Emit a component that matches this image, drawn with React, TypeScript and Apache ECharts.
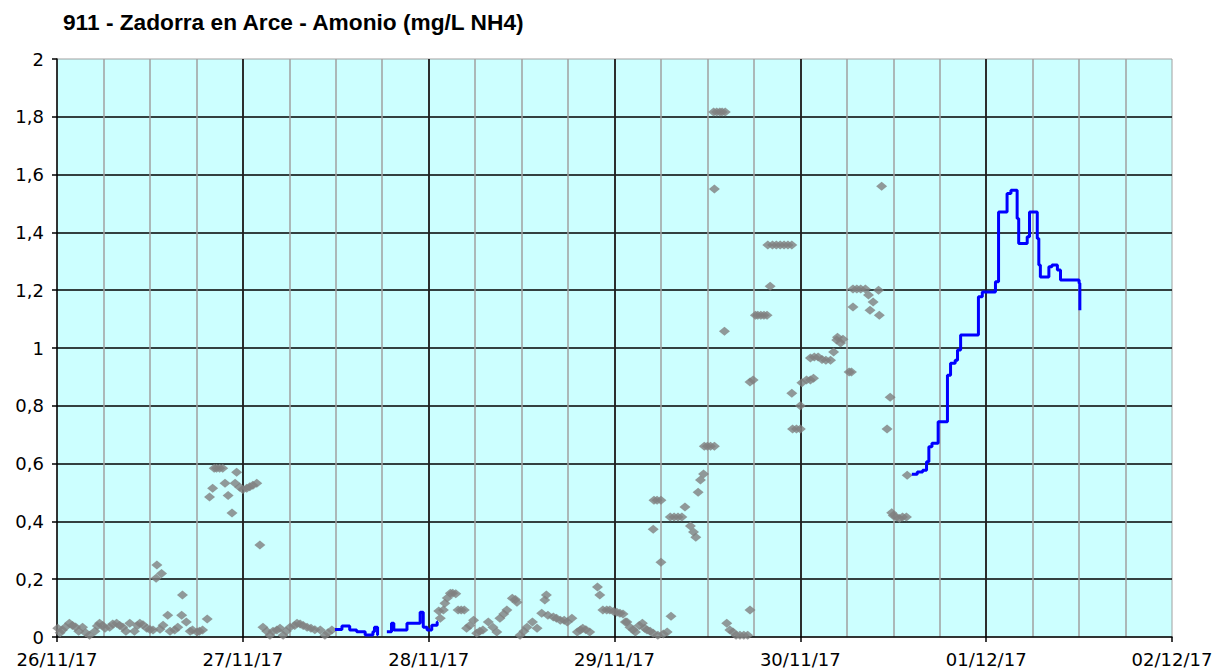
import React, { useEffect, useRef } from "react";
import * as echarts from "echarts";

const TITLE = "911 - Zadorra en Arce - Amonio (mg/L NH4)";
// x values are hours since 26/11/17 00:00
const DAY_LABELS = ["26/11/17", "27/11/17", "28/11/17", "29/11/17", "30/11/17", "01/12/17", "02/12/17"];
const X_MAX_HOURS = 144;
const Y_MIN = 0;
const Y_MAX = 2;
const Y_STEP = 0.2;

// grey diamonds: [hour, mg/L]
const GREY_DAY1: [number, number][] = [
  [0.1, 0.03], [0.4, 0.015], [0.7, 0.024], [1.1, 0.035], [1.6, 0.048], [2.0, 0.04], [2.4, 0.035],
  [2.8, 0.02], [3.3, 0.034], [3.7, 0.015], [4.2, 0.006], [4.9, 0.02], [5.2, 0.038], [5.5, 0.048],
  [5.9, 0.04], [6.2, 0.03], [6.8, 0.034], [7.2, 0.045], [7.7, 0.048], [8.1, 0.04], [8.5, 0.034],
  [8.9, 0.02], [9.4, 0.048], [10.0, 0.02], [10.4, 0.04], [10.7, 0.048], [11.1, 0.042], [11.6, 0.03],
  [12.0, 0.026], [12.4, 0.024], [12.8, 0.203], [12.9, 0.249], [13.3, 0.027], [13.5, 0.22],
  [13.7, 0.041], [14.3, 0.075], [14.6, 0.02], [15.2, 0.024], [15.6, 0.034], [16.1, 0.075], [16.2, 0.145],
  [16.7, 0.052], [17.2, 0.02], [17.5, 0.024], [18.1, 0.017], [18.4, 0.02], [18.8, 0.024], [19.4, 0.062],
];
const GREY_DAY2: [number, number][] = [
  [19.7, 0.484], [20.1, 0.515], [20.3, 0.584], [20.6, 0.584], [21.0, 0.584], [21.4, 0.584], [21.7, 0.532],
  [22.1, 0.49], [22.6, 0.429], [23.0, 0.532], [23.2, 0.57], [23.6, 0.518], [24.0, 0.51], [24.5, 0.515],
  [24.9, 0.52], [25.3, 0.525], [25.8, 0.532], [26.2, 0.318], [26.6, 0.034], [27.1, 0.02], [27.5, 0.006],
  [27.9, 0.02], [28.4, 0.024], [28.8, 0.03], [29.2, 0.006], [29.6, 0.02], [30.1, 0.034], [30.7, 0.04],
  [31.0, 0.048], [31.4, 0.045], [31.8, 0.04], [32.3, 0.034], [32.8, 0.03], [33.3, 0.025], [34.0, 0.024],
  [34.6, 0.006], [35.0, 0.015], [35.5, 0.024],
];
const GREY_DAY3: [number, number][] = [
  [49.3, 0.09], [49.5, 0.065], [49.9, 0.093], [50.1, 0.117], [50.4, 0.135], [50.8, 0.151], [51.1, 0.151],
  [51.5, 0.15], [51.8, 0.093], [52.2, 0.093], [52.6, 0.093], [52.9, 0.03], [53.3, 0.04], [53.8, 0.058],
  [54.2, 0.013], [54.6, 0.02], [55.0, 0.024], [55.7, 0.052], [56.3, 0.034], [56.8, 0.017], [57.2, 0.065],
  [57.7, 0.08], [58.1, 0.093], [58.8, 0.134], [59.2, 0.13], [59.4, 0.12], [59.8, 0.006], [60.3, 0.02],
  [60.7, 0.034], [61.4, 0.052], [62.0, 0.03], [62.6, 0.082], [63.0, 0.128], [63.2, 0.145], [63.4, 0.075],
  [64.1, 0.069], [64.5, 0.065], [65.0, 0.058], [65.5, 0.058], [65.9, 0.052], [66.5, 0.065], [67.2, 0.017],
  [67.6, 0.024], [67.9, 0.03], [68.3, 0.025], [68.8, 0.017], [69.8, 0.173], [70.1, 0.145], [70.5, 0.093],
  [71.0, 0.093], [71.4, 0.093], [71.9, 0.088],
];
const GREY_DAY4: [number, number][] = [
  [72.3, 0.086], [72.7, 0.082], [73.1, 0.08], [73.4, 0.052], [73.6, 0.052], [74.0, 0.034], [74.4, 0.025],
  [74.7, 0.017], [75.2, 0.04], [75.6, 0.048], [75.9, 0.03], [76.2, 0.024], [76.6, 0.02], [77.0, 0.013],
  [77.6, 0.006], [78.0, 0.259], [78.3, 0.01], [78.8, 0.017], [79.3, 0.072], [77.0, 0.373], [77.1, 0.473],
  [77.5, 0.473], [78.0, 0.473], [79.2, 0.415], [79.7, 0.415], [80.2, 0.415], [80.7, 0.415], [81.1, 0.45],
  [81.8, 0.384], [82.2, 0.363], [82.5, 0.345], [82.8, 0.501], [83.1, 0.543], [83.5, 0.564], [83.6, 0.66],
  [84.0, 0.66], [84.4, 0.66], [84.9, 0.66], [84.9, 1.55], [84.8, 1.817], [85.2, 1.817], [85.6, 1.817],
  [85.9, 1.817], [86.3, 1.817], [86.2, 1.058], [86.5, 0.048], [86.9, 0.024], [87.3, 0.017], [87.7, 0.006],
  [88.2, 0.006], [88.7, 0.006], [89.2, 0.006], [89.5, 0.093], [89.5, 0.882], [89.9, 0.889], [90.2, 1.113],
  [90.5, 1.113], [90.9, 1.113], [91.3, 1.113], [91.7, 1.113], [92.1, 1.214], [91.8, 1.356], [92.4, 1.356],
  [92.9, 1.356], [93.4, 1.356], [93.9, 1.356], [94.4, 1.356], [94.9, 1.356], [94.9, 0.843], [95.0, 0.72],
  [95.5, 0.72],
];
const GREY_DAY5: [number, number][] = [
  [96.0, 0.72], [96.0, 0.8], [96.2, 0.88], [96.8, 0.889], [97.3, 0.889], [97.7, 0.895], [97.3, 0.965],
  [97.8, 0.969], [98.3, 0.969], [98.8, 0.96], [99.3, 0.958], [99.9, 0.958], [100.3, 0.986], [100.7, 1.028],
  [100.8, 1.037], [101.2, 1.017], [101.5, 1.03], [102.3, 0.917], [102.6, 0.917], [102.8, 1.142],
  [102.8, 1.204], [103.3, 1.204], [103.8, 1.204], [104.4, 1.204], [104.8, 1.183], [105.0, 1.131],
  [105.4, 1.159], [106.1, 1.2], [106.2, 1.113], [106.5, 1.56], [107.2, 0.72], [107.6, 0.83], [107.8, 0.43],
  [108.0, 0.42], [108.4, 0.415], [108.8, 0.41], [109.2, 0.415], [109.7, 0.415], [109.8, 0.56],
];

// blue line (step changes): [hour, mg/L], null = gap
const BLUE_EARLY: [number, number | null][] = [
  [35.9, 0.026], [36.8, 0.038], [37.8, 0.024], [38.7, 0.018], [39.8, 0.007], [40.8, 0.018], [41.0, 0.034],
  [41.4, 0.007], [41.5, null], [42.6, 0.018], [43.2, 0.048], [43.5, 0.024], [45.2, 0.048], [46.9, 0.086],
  [47.3, 0.034], [47.8, 0.024], [48.4, 0.041], [49.1, 0.052], [49.2, null],
];
const BLUE_LATE: [number, number][] = [
  [110.4, 0.563], [111.1, 0.571], [111.8, 0.577], [112.3, 0.606], [112.6, 0.658], [113.0, 0.67],
  [113.8, 0.745], [115.0, 0.906], [115.4, 0.947], [116.0, 0.958], [116.3, 0.993], [116.7, 1.045],
  [119.0, 1.177], [119.5, 1.194], [121.2, 1.229], [121.6, 1.471], [122.7, 1.535], [123.2, 1.546],
  [124.0, 1.448], [124.2, 1.362], [125.3, 1.385], [125.6, 1.471], [126.6, 1.379], [126.8, 1.287],
  [127.0, 1.246], [128.1, 1.281], [128.5, 1.287], [129.2, 1.27], [129.6, 1.235], [132.0, 1.224],
  [132.1, 1.131],
];

const LABEL_FONT = "DejaVu Sans";

export default function App() {
  const ref = useRef<HTMLDivElement | null>(null);
  useEffect(() => {
    if (!ref.current) return;
    const chart = echarts.init(ref.current, null, { renderer: "svg" });
    const grey = [...GREY_DAY1, ...GREY_DAY2, ...GREY_DAY3, ...GREY_DAY4, ...GREY_DAY5];
    const blue = [...BLUE_EARLY, ...BLUE_LATE];
    chart.setOption({
      animation: false,
      backgroundColor: "#ffffff",
      title: {
        text: TITLE,
        left: 63,
        top: 10,
        padding: 0,
        textStyle: { fontFamily: "Liberation Sans", fontWeight: "bold", fontSize: 22.7, color: "#000" },
      },
      grid: {
        left: 57,
        right: 44,
        top: 59,
        bottom: 33,
        show: true,
        backgroundColor: "#CCFFFF",
        borderColor: "#A0A0A0",
        borderWidth: 1,
      },
      xAxis: [
        {
          type: "value",
          min: 0,
          max: X_MAX_HOURS,
          interval: 6,
          position: "bottom",
          axisLine: { show: false },
          axisTick: { show: false },
          axisLabel: { show: false },
          splitLine: { show: true, showMinLine: false, showMaxLine: false, lineStyle: { color: "#A0A0A0", width: 1.5 } },
        },
        {
          type: "value",
          min: 0,
          max: X_MAX_HOURS,
          interval: 24,
          position: "bottom",
          axisLine: { show: true, lineStyle: { color: "#000", width: 1.5 } },
          axisTick: { show: true, length: 5, lineStyle: { color: "#000", width: 1.5 } },
          axisLabel: {
            margin: 13,
            fontFamily: LABEL_FONT,
            fontSize: 18,
            color: "#000",
            formatter: (v: number) => DAY_LABELS[Math.round(v / 24)] ?? "",
          },
          splitLine: { show: true, showMinLine: false, showMaxLine: false, lineStyle: { color: "#000", width: 1.5 } },
        },
      ],
      yAxis: {
        type: "value",
        min: Y_MIN,
        max: Y_MAX,
        interval: Y_STEP,
        axisLine: { show: true, lineStyle: { color: "#000", width: 1.5 } },
        axisTick: { show: true, length: 5, lineStyle: { color: "#000", width: 1.5 } },
        axisLabel: {
          margin: 13,
          fontFamily: LABEL_FONT,
          fontSize: 18,
          color: "#000",
          formatter: (v: number) => String(Math.round(v * 10) / 10).replace(".", ","),
        },
        splitLine: { show: true, showMinLine: false, showMaxLine: false, lineStyle: { color: "#000", width: 1.5 } },
      },
      series: [
        {
          type: "scatter",
          xAxisIndex: 1,
          data: grey,
          symbol: "diamond",
          symbolSize: [11, 9],
          itemStyle: { color: "#808080" },
          z: 3,
        },
        {
          type: "line",
          xAxisIndex: 1,
          data: blue,
          step: "end",
          showSymbol: false,
          connectNulls: false,
          lineStyle: { color: "#0000FF", width: 3 },
          z: 4,
        },
      ],
    });
    return () => chart.dispose();
  }, []);
  return <div ref={ref} style={{ position: "fixed", left: 0, top: 0, width: 1216, height: 670 }} />;
}
